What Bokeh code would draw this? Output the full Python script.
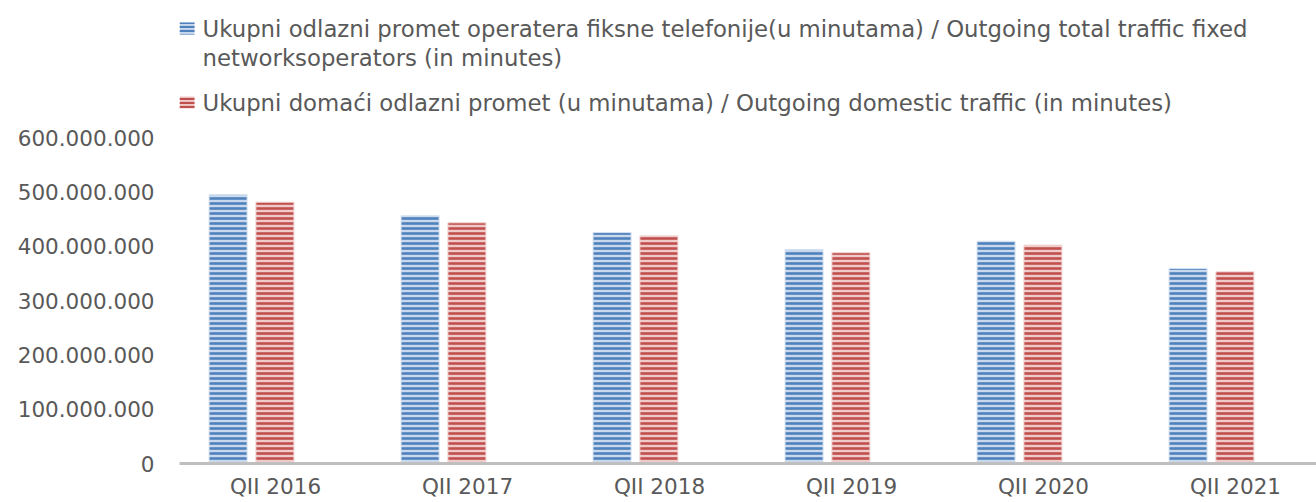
from bokeh.plotting import figure
from bokeh.models import Range1d, FixedTicker
from bokeh.core.properties import value
from bokeh.embed import file_html
from bokeh.resources import INLINE

categories = ["QII 2016", "QII 2017", "QII 2018", "QII 2019", "QII 2020", "QII 2021"]
total_traffic = [495e6, 456e6, 425e6, 394e6, 409e6, 359e6]
domestic_traffic = [481e6, 443e6, 419e6, 388e6, 402e6, 353e6]
y_ticks = [0, 100e6, 200e6, 300e6, 400e6, 500e6, 600e6]
y_tick_labels = ["0", "100.000.000", "200.000.000", "300.000.000", "400.000.000", "500.000.000", "600.000.000"]
legend_labels = [
    "Ukupni odlazni promet operatera fiksne telefonije(u minutama) / Outgoing total traffic fixed",
    "networksoperators (in minutes)",
    "Ukupni domaći odlazni promet (u minutama) / Outgoing domestic traffic  (in minutes)",
]

FONT = "DejaVu Sans"
TXT = "#595959"
BLUE, BLUE_L = "#4F81BD", "#c9d8ec"
RED, RED_L = "#C0504D", "#efcac9"

# geometry (canvas pixels)
W, H = 1316, 502
FL, FR, FT, FB = 179, 1316, 0, 463
X0, X1 = -0.375, 5.547
Y_PER_PX = 600e6 / 326.0
Y1 = (FB - FT) * Y_PER_PX

def px_x(px):
    return X0 + (px - FL) / (FR - FL) * (X1 - X0)

def px_y(py):
    return (FB - py) * Y_PER_PX

p = figure(width=W, height=H, output_backend="svg", toolbar_location=None,
           x_range=Range1d(X0, X1), y_range=Range1d(0, Y1),
           min_border_left=FL, min_border_right=0, min_border_top=FT,
           min_border_bottom=H - FB)
p.outline_line_color = None
p.xgrid.grid_line_color = None
p.ygrid.grid_line_color = None
p.background_fill_color = "white"

xs = list(range(len(categories)))
off = 0.122
w = 0.198
p.vbar(x=[x - off for x in xs], top=total_traffic, width=w, bottom=0,
       fill_color=BLUE_L, line_color="#d6e2f1", line_width=1,
       hatch_pattern="horizontal_line", hatch_color=BLUE, hatch_scale=5, hatch_weight=2.6)
p.vbar(x=[x + off for x in xs], top=domestic_traffic, width=w, bottom=0,
       fill_color=RED_L, line_color="#f1d6d5", line_width=1,
       hatch_pattern="horizontal_line", hatch_color=RED, hatch_scale=5, hatch_weight=2.6)

# legend
p.rect(x=[px_x(186.5), px_x(186.5)], y=[px_y(28), px_y(102)], width=15, height=12,
       width_units="screen", height_units="screen",
       fill_color=[BLUE_L, RED_L], line_color=None,
       hatch_pattern="horizontal_line", hatch_color=[BLUE, RED], hatch_scale=4, hatch_weight=2.2)
p.text(x=[px_x(202)] * 3, y=[px_y(28), px_y(57), px_y(102)], text=legend_labels,
       text_font=value(FONT), text_font_size="22.8px", text_color=TXT,
       text_baseline="middle", text_align="left")

# axes
p.xaxis.ticker = FixedTicker(ticks=[x + 0.125 for x in xs])
p.xaxis.major_label_overrides = {x + 0.125: c for x, c in zip(xs, categories)}
p.xaxis.axis_line_color = "#BFBFBF"
p.xaxis.axis_line_width = 3
p.xaxis.major_tick_line_color = None
p.xaxis.minor_tick_line_color = None
p.xaxis.major_tick_out = 0
p.xaxis.major_tick_in = 0
p.xaxis.major_label_text_font = FONT
p.xaxis.major_label_text_font_size = "21.5px"
p.xaxis.major_label_text_line_height = 1.0
p.xaxis.major_label_text_color = TXT
p.xaxis.major_label_standoff = 10

p.yaxis.ticker = FixedTicker(ticks=y_ticks)
p.yaxis.major_label_overrides = {t: l for t, l in zip(y_ticks, y_tick_labels)}
p.yaxis.axis_line_color = None
p.yaxis.major_tick_line_color = None
p.yaxis.minor_tick_line_color = None
p.yaxis.major_tick_out = 0
p.yaxis.major_tick_in = 0
p.yaxis.major_label_text_font = FONT
p.yaxis.major_label_text_font_size = "21.5px"
p.yaxis.major_label_text_color = TXT
p.yaxis.major_label_standoff = 25

open("out.html", "w").write(file_html(p, INLINE))
